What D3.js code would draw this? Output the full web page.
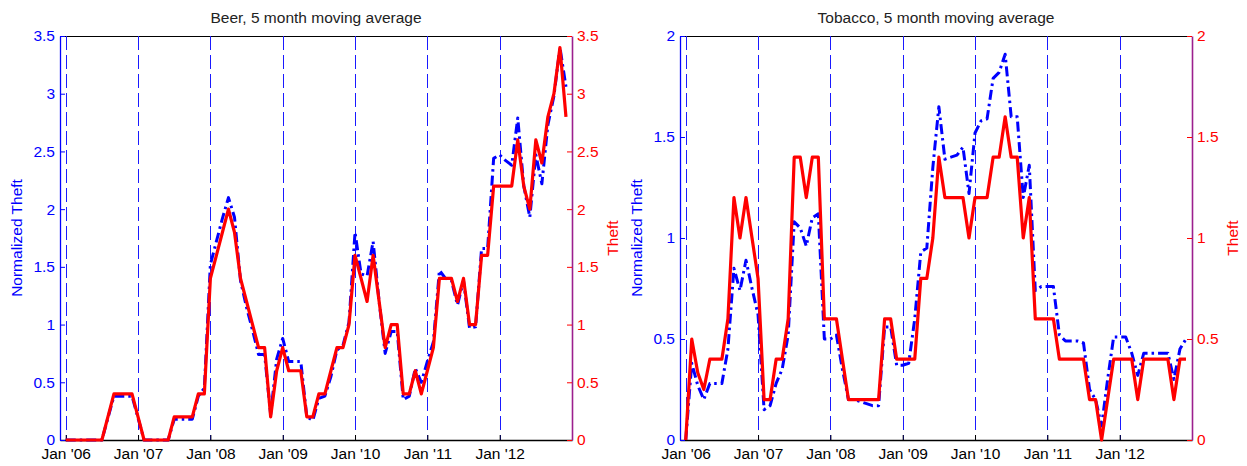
<!DOCTYPE html>
<html><head><meta charset="utf-8">
<script src="https://cdn.jsdelivr.net/npm/d3@7"></script>
<style>
body{margin:0;background:#fff}
svg{display:block}
text{font-family:"Liberation Sans",Arial,Helvetica,sans-serif}
</style>
</head><body>
<svg id="chart" width="1247" height="466"></svg>
<script>
// months counted from Jan 2006 (0) to Dec 2012 (83)
const tickMonths = [0, 12, 24, 36, 48, 60, 72];
const tickLabels = ["Jan '06", "Jan '07", "Jan '08", "Jan '09", "Jan '10", "Jan '11", "Jan '12"];

const beerTicks = [0, 0.5, 1, 1.5, 2, 2.5, 3, 3.5];
const tobaccoTicks = [0, 0.5, 1, 1.5, 2];

const beerNormalized = [
  0,0,0,0,0,0,0,0.19,0.38,0.38,0.38,0.38,0.19,0,0,0,0,0,0.18,0.18,0.18,0.18,0.38,0.45,
  1.52,1.72,1.92,2.1,1.93,1.38,1.15,0.95,0.74,0.74,0.22,0.7,0.88,0.68,0.68,0.68,0.2,0.17,
  0.36,0.38,0.55,0.78,0.82,1.02,1.8,1.44,1.42,1.72,1.2,0.75,0.94,0.94,0.35,0.38,0.62,0.5,0.68,0.85,
  1.47,1.4,1.38,1.17,1.38,0.97,0.98,1.66,1.66,2.44,2.47,2.42,2.38,2.79,2.2,1.93,2.47,2.22,2.73,2.98,3.4,3.06
];
const beerTheft = [
  0,0,0,0,0,0,0,0.2,0.4,0.4,0.4,0.4,0.2,0,0,0,0,0,0.2,0.2,0.2,0.2,0.4,0.4,
  1.4,1.6,1.8,2.0,1.8,1.4,1.2,1.0,0.8,0.8,0.2,0.6,0.8,0.6,0.6,0.6,0.2,0.2,
  0.4,0.4,0.6,0.8,0.8,1.0,1.6,1.4,1.2,1.6,1.2,0.8,1.0,1.0,0.4,0.4,0.6,0.4,0.6,0.8,
  1.4,1.4,1.4,1.2,1.4,1.0,1.0,1.6,1.6,2.2,2.2,2.2,2.2,2.6,2.2,2.0,2.6,2.4,2.8,3.0,3.4,2.8
];
const tobaccoNormalized = [
  0,0.38,0.27,0.2,0.28,0.28,0.28,0.45,0.85,0.74,0.89,0.75,0.62,0.15,0.17,0.28,0.35,0.52,
  1.08,1.05,0.96,1.1,1.12,0.5,0.5,0.52,0.35,0.2,0.2,0.19,0.18,0.17,0.17,0.56,0.56,0.37,0.37,0.38,
  0.6,0.93,0.95,1.35,1.65,1.39,1.4,1.41,1.45,1.22,1.52,1.58,1.59,1.79,1.82,1.91,1.6,1.6,1.2,1.36,
  0.74,0.76,0.76,0.76,0.52,0.49,0.49,0.49,0.48,0.25,0.2,0.07,0.3,0.51,0.51,0.51,0.43,0.32,
  0.43,0.43,0.43,0.43,0.43,0.3,0.45,0.5
];
const tobaccoTheft = [
  0,0.5,0.333,0.25,0.4,0.4,0.4,0.6,1.2,1.0,1.2,1.0,0.8,0.2,0.2,0.4,0.4,0.6,
  1.4,1.4,1.2,1.4,1.4,0.6,0.6,0.6,0.4,0.2,0.2,0.2,0.2,0.2,0.2,0.6,0.6,0.4,0.4,0.4,
  0.4,0.8,0.8,1.0,1.4,1.2,1.2,1.2,1.2,1.0,1.2,1.2,1.2,1.4,1.4,1.6,1.4,1.4,1.0,1.2,
  0.6,0.6,0.6,0.6,0.4,0.4,0.4,0.4,0.4,0.2,0.2,0,0.2,0.4,0.4,0.4,0.4,0.2,
  0.4,0.4,0.4,0.4,0.4,0.2,0.4,0.4
];

const panels = [
  {left: 60, title: "Beer, 5 month moving average", norm: beerNormalized, theft: beerTheft, ticks: beerTicks},
  {left: 680, title: "Tobacco, 5 month moving average", norm: tobaccoNormalized, theft: tobaccoTheft, ticks: tobaccoTicks}
];

const svg = d3.select("#chart");
const plotTop = 36, plotBottom = 440, plotW = 512;
const fontSize = "15.5px";

panels.forEach(p => {
  const g = svg.append("g").attr("transform", `translate(${p.left},0)`);
  const x = d3.scaleLinear().domain([-0.95, 84]).range([0, plotW]);
  const ymax = p.ticks[p.ticks.length - 1];
  const y = d3.scaleLinear().domain([0, ymax]).range([plotBottom, plotTop]);

  // top border
  g.append("line").attr("x1", 0).attr("x2", plotW).attr("y1", plotTop + 0.5).attr("y2", plotTop + 0.5)
    .attr("stroke", "#000").attr("stroke-width", 1);

  // vertical dashed year lines
  g.selectAll("line.yr").data(tickMonths).enter().append("line")
    .attr("class", "yr")
    .attr("x1", d => Math.round(x(d)) + 0.5).attr("x2", d => Math.round(x(d)) + 0.5)
    .attr("y1", plotTop).attr("y2", plotBottom)
    .attr("stroke", "#1a1aff").attr("stroke-width", 1)
    .attr("stroke-dasharray", "14,5");

  // bottom axis
  const xAxis = d3.axisBottom(x).tickValues(tickMonths)
    .tickFormat((d, i) => tickLabels[i]).tickSize(-5).tickSizeOuter(0).tickPadding(8);
  const gx = g.append("g").attr("transform", `translate(0,${plotBottom})`).call(xAxis);
  gx.select(".domain").attr("stroke", "#000").attr("stroke-width", 1.3);
  gx.selectAll(".tick line").attr("stroke", "#000");
  gx.selectAll("text").attr("fill", "#000").style("font-size", fontSize);
  gx.attr("font-family", null).attr("font-size", null);

  // left axis
  const yAxis = d3.axisLeft(y).tickValues(p.ticks).tickFormat(d => d)
    .tickSize(-5).tickSizeOuter(0).tickPadding(5);
  const gy = g.append("g").call(yAxis);
  gy.select(".domain").attr("stroke", "#0000ff").attr("stroke-width", 1.3);
  gy.selectAll(".tick line").attr("stroke", "#0000ff");
  gy.selectAll("text").attr("fill", "#0000ff").style("font-size", fontSize);
  gy.attr("font-family", null).attr("font-size", null);

  // right axis
  const yAxisR = d3.axisRight(y).tickValues(p.ticks).tickFormat(d => d)
    .tickSize(-5).tickSizeOuter(0).tickPadding(5);
  const gr = g.append("g").attr("transform", `translate(${plotW},0)`).call(yAxisR);
  gr.select(".domain").attr("stroke", "#9c1f8e").attr("stroke-width", 1.6);
  gr.selectAll(".tick line").attr("stroke", "#ff0000");
  gr.selectAll("text").attr("fill", "#ff0000").style("font-size", fontSize);
  gr.attr("font-family", null).attr("font-size", null);

  // lines
  const line = d3.line().x((d, i) => x(i)).y(d => y(d));
  g.append("path").datum(p.norm).attr("d", line)
    .attr("fill", "none").attr("stroke", "#0000ff").attr("stroke-width", 3)
    .attr("stroke-dasharray", "10,4,2.5,4").attr("stroke-linejoin", "round");
  g.append("path").datum(p.theft).attr("d", line)
    .attr("fill", "none").attr("stroke", "#ff0000").attr("stroke-width", 3.2)
    .attr("stroke-linejoin", "round");

  // title
  g.append("text").attr("x", plotW / 2).attr("y", 23).attr("text-anchor", "middle")
    .attr("fill", "#222").style("font-size", fontSize).text(p.title);

  // axis titles
  g.append("text").attr("transform", `translate(-38,${(plotTop + plotBottom) / 2}) rotate(-90)`)
    .attr("text-anchor", "middle").attr("fill", "#0000ff").style("font-size", fontSize)
    .text("Normalized Theft");
  g.append("text").attr("transform", `translate(${plotW + 46},${(plotTop + plotBottom) / 2}) rotate(-90)`)
    .attr("text-anchor", "middle").attr("fill", "#ff0000").style("font-size", fontSize)
    .text("Theft");
});
</script>
</body></html>
